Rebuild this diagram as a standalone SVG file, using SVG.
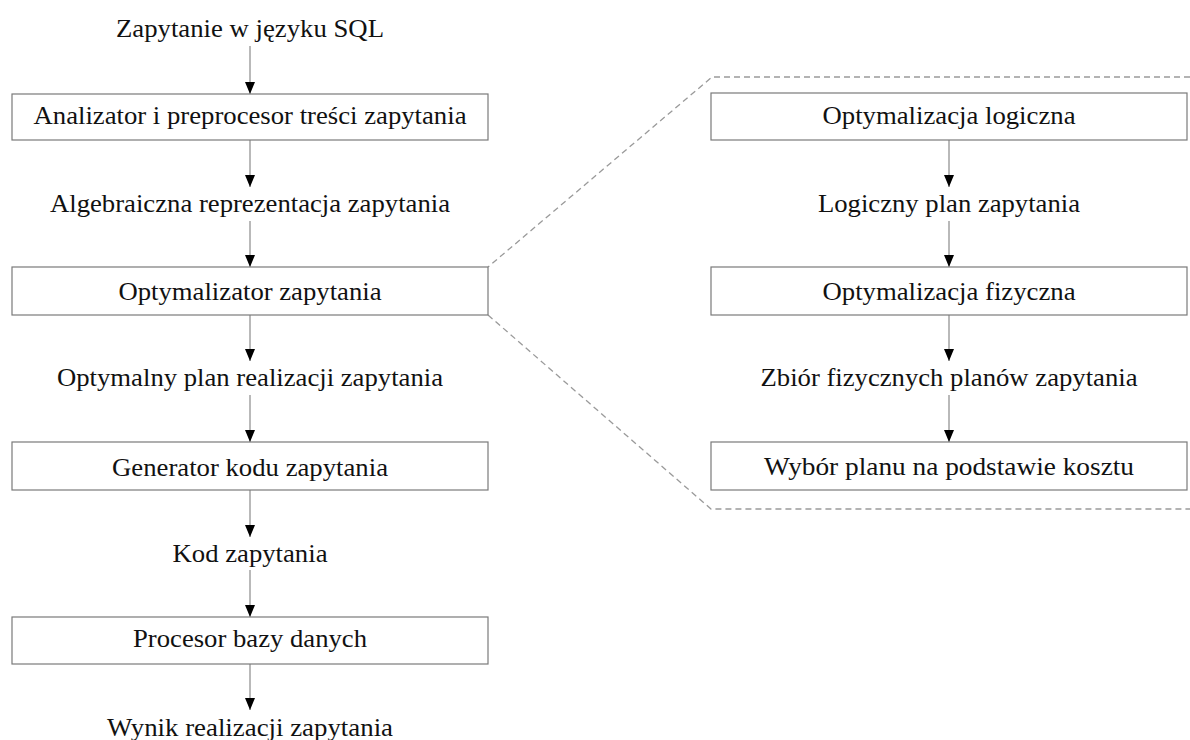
<svg xmlns="http://www.w3.org/2000/svg" width="1190" height="740" viewBox="0 0 1190 740">
  <style>
    .box { fill: #ffffff; stroke: #7a7a7a; stroke-width: 1.2; }
    .lbl { font-family: "Liberation Serif", "Times New Roman", serif; font-size: 26px; fill: #111111; text-anchor: middle; }
    .flow { fill: none; stroke: #8a8a8a; stroke-width: 1.2; marker-end: url(#head); }
    .zoom { fill: none; stroke: #9a9a9a; stroke-width: 1.3; stroke-dasharray: 6 4; }
  </style>
  <defs>
    <marker id="head" viewBox="0 0 12 10" refX="12" refY="5" markerWidth="12" markerHeight="10" markerUnits="userSpaceOnUse" orient="auto">
      <path d="M0,0 L12,5 L0,10 z" fill="#000000"/>
    </marker>
  </defs>
  <rect width="1190" height="740" fill="#ffffff"/>

  <!-- detail outline of the optimizer -->
  <g id="zoom-outline">
    <path class="zoom" d="M1190,77 L712,77 L488,267"/>
    <path class="zoom" d="M488,315 L711,509 L1190,509"/>
  </g>

  <!-- connectors -->
  <g id="connectors">
    <line class="flow" x1="250" y1="46" x2="250" y2="94"/>
    <line class="flow" x1="250" y1="140" x2="250" y2="187"/>
    <line class="flow" x1="250" y1="221" x2="250" y2="267"/>
    <line class="flow" x1="250" y1="315" x2="250" y2="361"/>
    <line class="flow" x1="250" y1="395" x2="250" y2="442"/>
    <line class="flow" x1="250" y1="490" x2="250" y2="537"/>
    <line class="flow" x1="250" y1="570" x2="250" y2="617"/>
    <line class="flow" x1="250" y1="664" x2="250" y2="710"/>

    <line class="flow" x1="949" y1="140" x2="949" y2="187"/>
    <line class="flow" x1="949" y1="221" x2="949" y2="267"/>
    <line class="flow" x1="949" y1="315" x2="949" y2="361"/>
    <line class="flow" x1="949" y1="395" x2="949" y2="442"/>
  </g>

  <!-- main pipeline -->
  <g id="sql-query">
    <text class="lbl" x="250" y="37" textLength="268" lengthAdjust="spacingAndGlyphs">Zapytanie w języku SQL</text>
  </g>
  <g id="parser">
    <rect class="box" x="12" y="94" width="476" height="46"/>
    <text class="lbl" x="250" y="124" textLength="433" lengthAdjust="spacingAndGlyphs">Analizator i preprocesor treści zapytania</text>
  </g>
  <g id="algebraic-form">
    <text class="lbl" x="250" y="212" textLength="400" lengthAdjust="spacingAndGlyphs">Algebraiczna reprezentacja zapytania</text>
  </g>
  <g id="optimizer">
    <rect class="box" x="12" y="267" width="476" height="48"/>
    <text class="lbl" x="250" y="300" textLength="263" lengthAdjust="spacingAndGlyphs">Optymalizator zapytania</text>
  </g>
  <g id="optimal-plan">
    <text class="lbl" x="250" y="386" textLength="386" lengthAdjust="spacingAndGlyphs">Optymalny plan realizacji zapytania</text>
  </g>
  <g id="code-generator">
    <rect class="box" x="12" y="442" width="476" height="48"/>
    <text class="lbl" x="250" y="476" textLength="276" lengthAdjust="spacingAndGlyphs">Generator kodu zapytania</text>
  </g>
  <g id="query-code">
    <text class="lbl" x="250" y="562" textLength="155" lengthAdjust="spacingAndGlyphs">Kod zapytania</text>
  </g>
  <g id="db-processor">
    <rect class="box" x="12" y="617" width="476" height="47"/>
    <text class="lbl" x="250" y="647" textLength="234" lengthAdjust="spacingAndGlyphs">Procesor bazy danych</text>
  </g>
  <g id="result">
    <text class="lbl" x="250" y="736" textLength="286" lengthAdjust="spacingAndGlyphs">Wynik realizacji zapytania</text>
  </g>

  <!-- optimizer detail -->
  <g id="logical-opt">
    <rect class="box" x="711" y="93" width="476" height="47"/>
    <text class="lbl" x="949" y="124" textLength="253" lengthAdjust="spacingAndGlyphs">Optymalizacja logiczna</text>
  </g>
  <g id="logical-plan">
    <text class="lbl" x="949" y="212" textLength="262" lengthAdjust="spacingAndGlyphs">Logiczny plan zapytania</text>
  </g>
  <g id="physical-opt">
    <rect class="box" x="711" y="267" width="476" height="48"/>
    <text class="lbl" x="949" y="300" textLength="253" lengthAdjust="spacingAndGlyphs">Optymalizacja fizyczna</text>
  </g>
  <g id="physical-plans">
    <text class="lbl" x="949" y="386" textLength="377" lengthAdjust="spacingAndGlyphs">Zbiór fizycznych planów zapytania</text>
  </g>
  <g id="cost-choice">
    <rect class="box" x="711" y="442" width="476" height="48"/>
    <text class="lbl" x="949" y="475" textLength="370" lengthAdjust="spacingAndGlyphs">Wybór planu na podstawie kosztu</text>
  </g>
</svg>
